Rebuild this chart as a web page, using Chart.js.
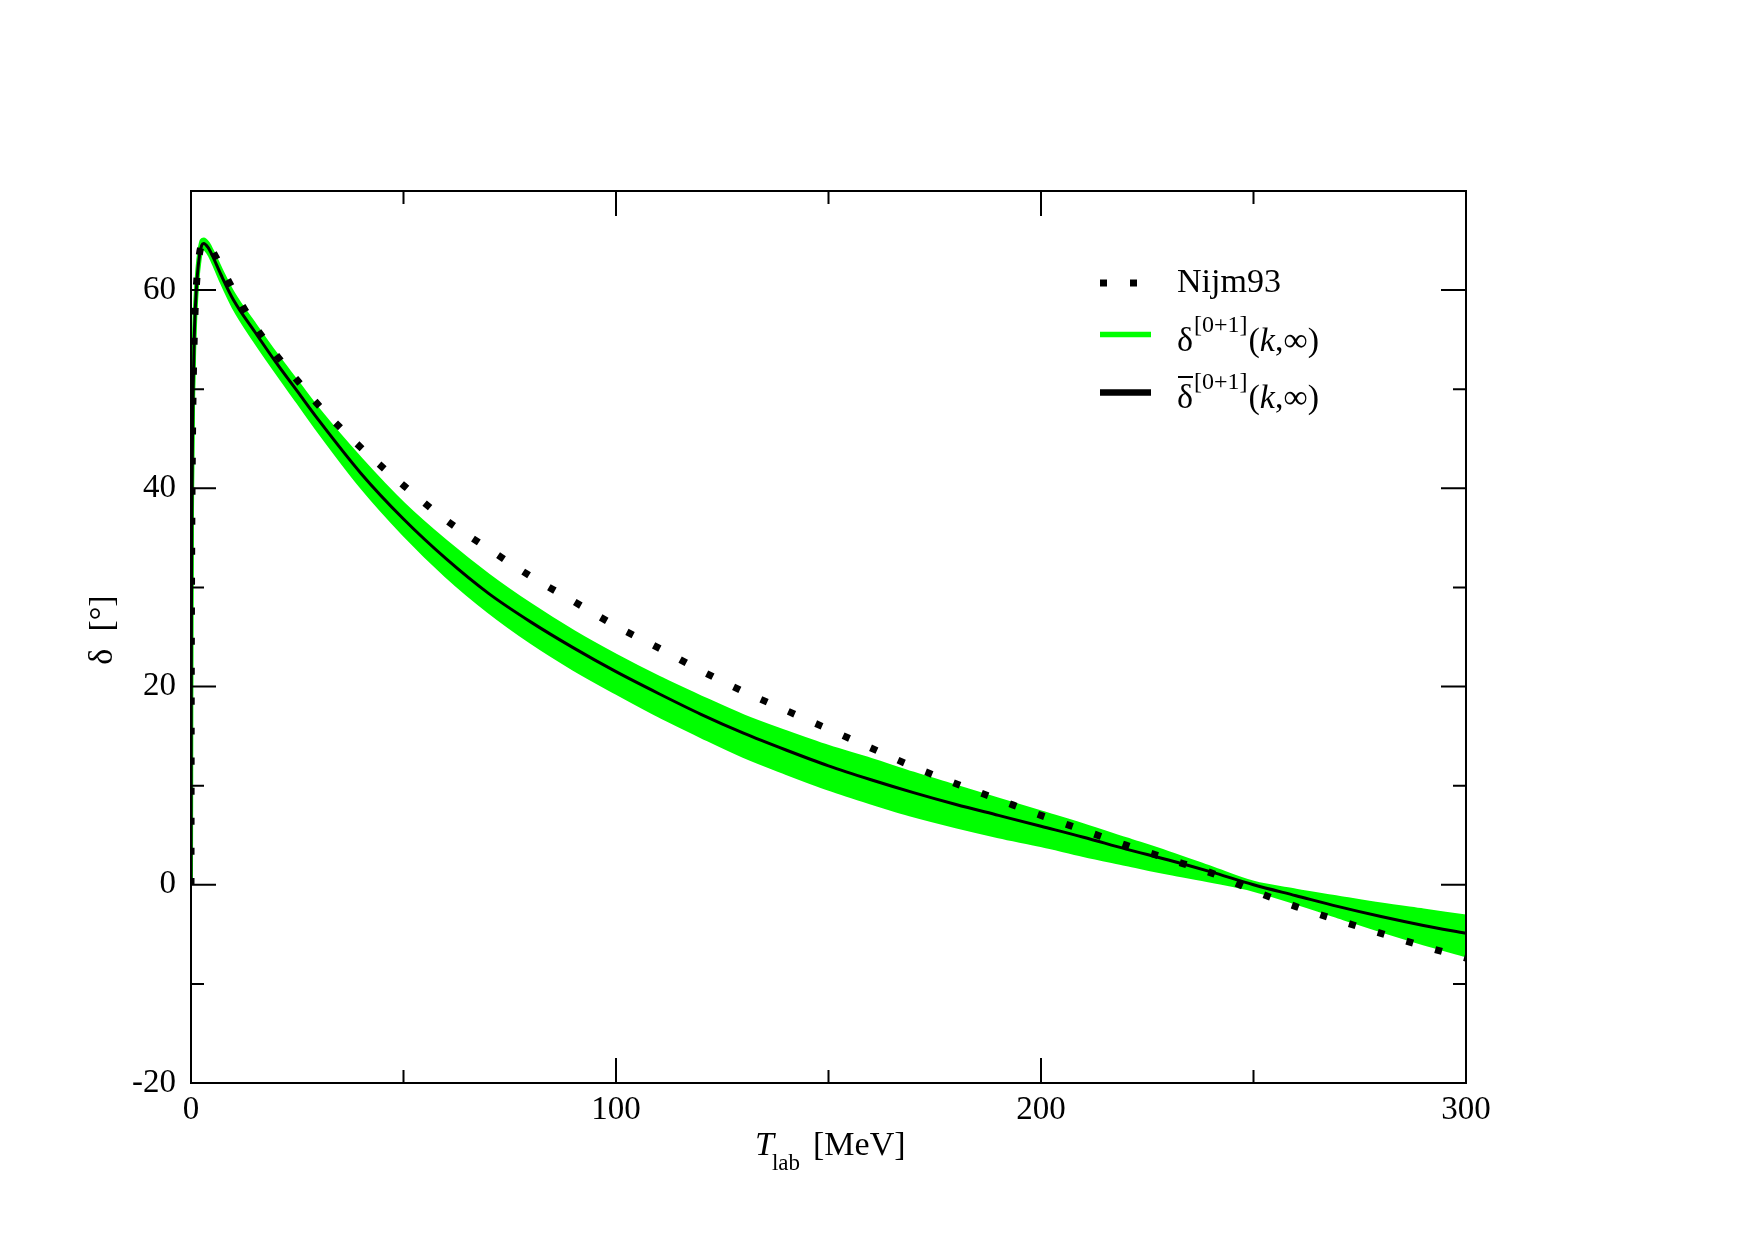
<!DOCTYPE html>
<html><head><meta charset="utf-8">
<script src="https://cdn.jsdelivr.net/npm/chart.js@4/dist/chart.umd.min.js"></script>
<style>html,body{margin:0;padding:0;background:#fff}#wrap{width:1755px;height:1240px;position:relative}</style>
</head><body><div id="wrap"><canvas id="c" width="1755" height="1240"></canvas></div>
<script>
// ---- data ----
const T = [0,0.05,0.1,0.2,0.35,0.5,0.75,1,1.5,2,2.5,3,4,5,7,10,15,20,25,30,40,50,60,70,80,90,100,110,120,130,140,150,160,170,180,190,200,210,220,230,240,250,260,270,280,290,300];
const nijm93 = [0,18,27,37,45,50,55,58.3,61.8,63.7,64.6,64.9,64.6,64.0,62.4,60.0,56.4,53.5,50.9,48.4,44.1,40.3,36.8,33.9,31.1,28.6,26.1,23.9,21.6,19.5,17.6,15.7,13.8,11.9,10.2,8.6,7.0,5.5,4.0,2.6,1.2,-0.6,-2.2,-3.6,-4.9,-6.2,-7.4];
const deltaMean = [0,18,27,37,45,50,55,58,61.5,63.5,64.5,64.7,64.3,63.5,61.6,59.0,55.8,52.7,49.8,46.9,41.5,36.9,32.9,29.4,26.5,23.9,21.5,19.3,17.2,15.3,13.6,12.0,10.6,9.3,8.1,7.0,5.9,4.8,3.6,2.5,1.3,0.0,-1.1,-2.2,-3.2,-4.1,-4.9];
const bandUpper = [0,19,28,38,46,51,56,58.8,62.1,64.0,65.0,65.1,64.7,63.9,62.1,59.6,56.5,53.5,50.7,47.9,42.9,38.4,34.6,31.2,28.2,25.5,23.1,20.9,18.9,17.0,15.4,13.9,12.6,11.2,9.9,8.6,7.3,6.0,4.6,3.2,1.7,0.2,-0.6,-1.3,-2.0,-2.6,-3.2];
const bandLower = [0,17,26,36,44,49,54,57.2,60.9,63.0,64.1,64.2,63.8,63.0,61.0,58.3,54.9,51.8,48.8,45.8,40.2,35.4,31.2,27.6,24.5,21.8,19.4,17.1,15.0,13.0,11.3,9.7,8.3,7.0,5.9,4.9,4.0,3.0,2.1,1.2,0.4,-0.5,-1.8,-3.2,-4.6,-5.9,-7.1];
const xMajorTicks = [0,100,200,300];
const xMinorTicks = [50,150,250];
const yMajorTicks = [-20,0,20,40,60];
const yMinorTicks = [-10,10,30,50];

const pts = arr => T.map((t,i)=>({x:t,y:arr[i]}));
const FONT = '"Liberation Serif","Times New Roman",serif';
const GREEN = '#00ff00';

const decor = {
  id:'decor',
  afterDraw(chart){
    const {ctx, chartArea:a, scales:{x,y}} = chart;
    ctx.save();
    ctx.strokeStyle='#000'; ctx.lineWidth=2; ctx.setLineDash([]);
    ctx.strokeRect(a.left, a.top, a.right-a.left, a.bottom-a.top);
    ctx.beginPath();
    const MAJ=25, MIN=13;
    xMajorTicks.forEach(v=>{const p=x.getPixelForValue(v); ctx.moveTo(p,a.bottom); ctx.lineTo(p,a.bottom-MAJ); ctx.moveTo(p,a.top); ctx.lineTo(p,a.top+MAJ);});
    xMinorTicks.forEach(v=>{const p=x.getPixelForValue(v); ctx.moveTo(p,a.bottom); ctx.lineTo(p,a.bottom-MIN); ctx.moveTo(p,a.top); ctx.lineTo(p,a.top+MIN);});
    yMajorTicks.forEach(v=>{const p=y.getPixelForValue(v); ctx.moveTo(a.left,p); ctx.lineTo(a.left+MAJ,p); ctx.moveTo(a.right,p); ctx.lineTo(a.right-MAJ,p);});
    yMinorTicks.forEach(v=>{const p=y.getPixelForValue(v); ctx.moveTo(a.left,p); ctx.lineTo(a.left+MIN,p); ctx.moveTo(a.right,p); ctx.lineTo(a.right-MIN,p);});
    ctx.stroke();

    // legend samples
    ctx.lineCap='butt';
    ctx.beginPath(); ctx.setLineDash([7,23]); ctx.lineWidth=7; ctx.strokeStyle='#000';
    ctx.moveTo(1100,283); ctx.lineTo(1152,283); ctx.stroke();
    ctx.setLineDash([]);
    ctx.beginPath(); ctx.lineWidth=5.5; ctx.strokeStyle=GREEN; ctx.moveTo(1100,334.5); ctx.lineTo(1151,334.5); ctx.stroke();
    ctx.beginPath(); ctx.lineWidth=6.5; ctx.strokeStyle='#000'; ctx.moveTo(1100,392.5); ctx.lineTo(1151,392.5); ctx.stroke();

    // legend text
    ctx.fillStyle='#000'; ctx.textAlign='left'; ctx.textBaseline='alphabetic';
    const main = '34px '+FONT, ital = 'italic 34px '+FONT, sup = '24px '+FONT;
    ctx.font=main; ctx.fillText('Nijm93',1177,292);
    const deltaRow = (yb, bar) => {
      let xx = 1177;
      ctx.font=main; ctx.fillText('\u03b4',xx,yb); const dw = ctx.measureText('\u03b4').width;
      if (bar){ ctx.beginPath(); ctx.lineWidth=2; ctx.strokeStyle='#000'; ctx.moveTo(xx+1,yb-31); ctx.lineTo(xx+dw,yb-31); ctx.stroke(); }
      xx += dw+1;
      ctx.font=sup; ctx.fillText('[0+1]',xx,yb-19); xx += ctx.measureText('[0+1]').width+1;
      ctx.font=main; ctx.fillText('(',xx,yb); xx += ctx.measureText('(').width;
      ctx.font=ital; ctx.fillText('k',xx,yb); xx += ctx.measureText('k').width;
      ctx.font=main; ctx.fillText(',\u221e)',xx,yb);
    };
    deltaRow(351,false);
    deltaRow(408,true);

    // x axis title
    ctx.font='italic 34px '+FONT; ctx.fillText('T',755,1155);
    let tw = ctx.measureText('T').width;
    ctx.font='23px '+FONT; ctx.fillText('lab',755+tw-2,1170);
    ctx.font='34px '+FONT; ctx.fillText('[MeV]',813,1155);

    // y axis title
    ctx.save(); ctx.translate(112,630); ctx.rotate(-Math.PI/2);
    ctx.textAlign='center'; ctx.font='34px '+FONT; ctx.fillText('\u03b4  [\u00b0]',0,0);
    ctx.restore();
    ctx.restore();
  }
};

new Chart(document.getElementById('c'), {
  type:'line',
  data:{datasets:[
    {label:'mean', data:pts(deltaMean), borderColor:'#000', borderWidth:3, pointRadius:0, fill:false, cubicInterpolationMode:'monotone', order:1},
    {label:'Nijm93', data:pts(nijm93), borderColor:'#000', borderWidth:7, borderDash:[7,23], borderCapStyle:'butt', pointRadius:0, fill:false, cubicInterpolationMode:'monotone', order:2},
    {label:'band upper', data:pts(bandUpper), borderColor:GREEN, backgroundColor:GREEN, borderWidth:4, pointRadius:0, fill:'+1', cubicInterpolationMode:'monotone', order:3},
    {label:'band lower', data:pts(bandLower), borderColor:GREEN, borderWidth:4, pointRadius:0, fill:false, cubicInterpolationMode:'monotone', order:4}
  ]},
  options:{
    responsive:false, animation:false, devicePixelRatio:1,
    layout:{padding:{left:0,top:191,right:289,bottom:0}},
    plugins:{legend:{display:false}, tooltip:{enabled:false}},
    scales:{
      x:{type:'linear', min:0, max:300,
         grid:{display:false, drawTicks:false}, border:{display:false},
         ticks:{stepSize:100, color:'#000', font:{family:FONT,size:33}, padding:8, maxRotation:0,
                callback:v=>String(v)},
         afterFit:s=>{s.height=157;}},
      y:{type:'linear', min:-20, max:70,
         grid:{display:false, drawTicks:false}, border:{display:false},
         ticks:{stepSize:20, color:'#000', font:{family:FONT,size:33}, padding:15,
                callback:v=>(v%20===0?String(v):null)},
         afterFit:s=>{s.width=191;}}
    }
  },
  plugins:[decor]
});
</script></body></html>
